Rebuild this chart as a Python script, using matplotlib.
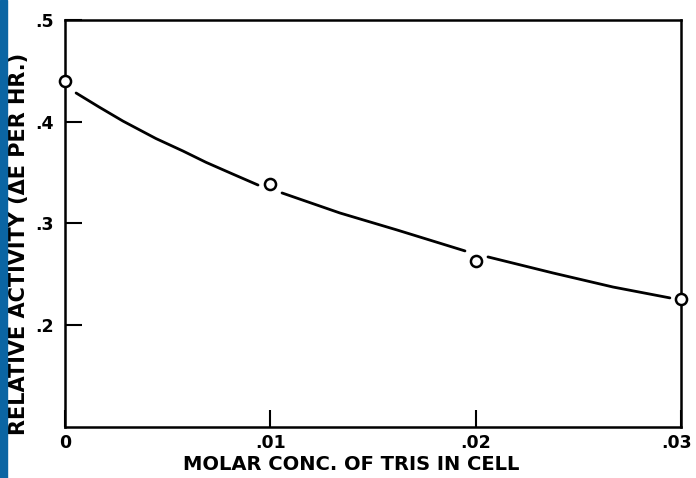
import numpy as np
import matplotlib
matplotlib.use("Agg")
import matplotlib.pyplot as plt
import matplotlib.transforms as mtransforms
from matplotlib.patches import Rectangle

# measured points
conc = [0.0, 0.01, 0.02, 0.03]
activite = [0.44, 0.339, 0.263, 0.226]

# smooth curve (nan = gap near the circles)
courbe_x = [0.00054, 0.00166, 0.00282, 0.00443, 0.00575, 0.00687, 0.00818, 0.0094, np.nan,
            0.01057, 0.01339, 0.01617, 0.01948, np.nan,
            0.0206, 0.02377, 0.02669, 0.02946]
courbe_y = [0.4283, 0.4145, 0.4007, 0.3835, 0.3712, 0.3601, 0.3485, 0.3378, np.nan,
            0.330, 0.3103, 0.2936, 0.273, np.nan,
            0.2671, 0.2513, 0.2375, 0.2268]

xticks = [0, 0.01, 0.02, 0.03]
xlabels = ["0", ".01", ".02", ".03"]
yticks = [0.2, 0.3, 0.4, 0.5]
ylabels = [".2", ".3", ".4", ".5"]

plt.rcParams['font.family'] = ['DejaVu Sans']

fig = plt.figure(figsize=(6.96, 4.78), dpi=100)
ax = fig.add_axes([0.0934, 0.107, 0.885, 0.851])

ax.plot(courbe_x, courbe_y, color='black', lw=2.0, solid_capstyle='round', solid_joinstyle='round')
ax.plot(conc, activite, 'o', mfc='white', mec='black', ms=8, mew=1.8, clip_on=False, zorder=5)

ax.set_xlim(0, 0.03)
ax.set_ylim(0.1, 0.5)
ax.set_xticks(xticks)
ax.set_xticklabels(xlabels, fontweight='bold')
ax.set_yticks(yticks)
ax.set_yticklabels(ylabels, fontweight='bold')
ax.tick_params(direction='in', length=12, width=1.5, labelsize=12.5, colors='black')
ax.tick_params(axis='y', pad=8)
ax.tick_params(axis='x', pad=5)
for s in ax.spines.values():
    s.set_linewidth(1.8)

# nudge the last x label so it stays inside the picture
dx = mtransforms.ScaledTranslation(-4/100, 0, fig.dpi_scale_trans)
lab = ax.get_xticklabels()[-1]
lab.set_transform(lab.get_transform() + dx)

ax.set_xlabel("MOLAR CONC. OF TRIS IN CELL", fontsize=14, fontweight='bold')
ax.xaxis.set_label_coords(0.464, -0.069)
ax.set_ylabel("RELATIVE ACTIVITY (\u0394E PER HR.)", fontsize=15, fontweight='bold')
ax.yaxis.set_label_coords(-0.058, 0.45)

# blue strip on the left edge of the scan
fig.patches.append(Rectangle((0, 0), 7/696, 1, transform=fig.transFigure, color='#0b65a3', zorder=0))

plt.savefig('out.png', dpi=100)
